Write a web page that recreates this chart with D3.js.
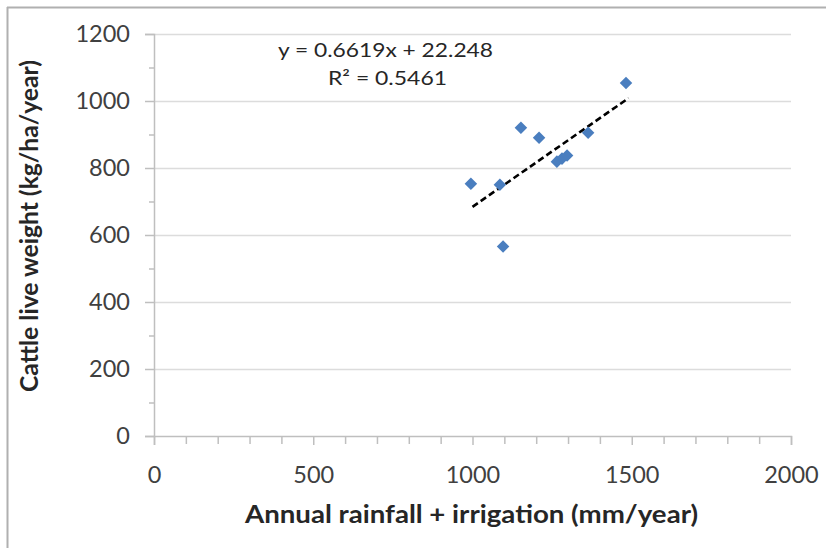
<!DOCTYPE html>
<html><head><meta charset="utf-8">
<script src="https://cdn.jsdelivr.net/npm/d3@7/dist/d3.min.js"></script>
<style>body{margin:0;background:#fff}svg{display:block}</style>
</head><body>
<svg id="c" width="826" height="548"></svg>
<script>
const rainfall = [995, 1086, 1096, 1152, 1209, 1265, 1281, 1297, 1363, 1482];
const liveWeight = [753, 750, 566, 920, 890, 819, 828, 837, 905, 1054];
const xTicks = [0, 500, 1000, 1500, 2000];
const yTicks = [0, 200, 400, 600, 800, 1000, 1200];
const trendSlope = 0.6619, trendIntercept = 22.248;
const trendRange = [1000, 1490];
const equationText = "y = 0.6619x + 22.248";
const r2Text = "R² = 0.5461";
const xTitle = "Annual rainfall + irrigation (mm/year)";
const yTitle = "Cattle live weight (kg/ha/year)";

const svg = d3.select("#c");
const font = "Lato, 'Liberation Sans', sans-serif";
const L = 154, R = 791, T = 34, B = 436;
const x = d3.scaleLinear().domain([0, 2000]).range([L, R]);
const y = d3.scaleLinear().domain([0, 1200]).range([B, T]);

// frame border (top & left)
svg.append("line").attr("x1",7).attr("x2",826).attr("y1",7.5).attr("y2",7.5).attr("stroke","#b0b0b0").attr("stroke-width",2);
svg.append("line").attr("x1",7.5).attr("x2",7.5).attr("y1",7).attr("y2",548).attr("stroke","#b0b0b0").attr("stroke-width",2);

// gridlines
svg.append("g").selectAll("line").data(yTicks.filter(d=>d>0)).join("line")
  .attr("x1",L).attr("x2",R).attr("y1",d=>Math.round(y(d))+0.5).attr("y2",d=>Math.round(y(d))+0.5)
  .attr("stroke","#dcdcdc").attr("stroke-width",1.5);

// y axis
const yAxis = svg.append("g").attr("transform",`translate(${L},0)`)
  .call(d3.axisLeft(y).tickValues(d3.range(0,1201,100)).tickSize(9).tickFormat(d=> yTicks.includes(d)? d : ""));
yAxis.select(".domain").attr("stroke","#bfbfbf").attr("stroke-width",1.5);
yAxis.selectAll(".tick line").attr("stroke","#bfbfbf").attr("stroke-width",1.5)
  .attr("x2", d=> yTicks.includes(d)? -9 : -5);
yAxis.selectAll(".tick text").attr("font-family",font).attr("font-size",23.5).attr("fill","#404040").attr("x",-24);

// x axis
const xAxis = svg.append("g").attr("transform",`translate(0,${B})`)
  .call(d3.axisBottom(x).tickValues(d3.range(0,2001,100)).tickSize(9).tickFormat(d=> xTicks.includes(d)? d : ""));
xAxis.select(".domain").attr("stroke","#bfbfbf").attr("stroke-width",1.5);
xAxis.selectAll(".tick line").attr("stroke","#bfbfbf").attr("stroke-width",1.5)
  .attr("y2", d=> xTicks.includes(d)? 9 : 8);
xAxis.selectAll(".tick text").attr("font-family",font).attr("font-size",23.5).attr("fill","#404040").attr("y",30);

// trendline
svg.append("line")
  .attr("x1",x(trendRange[0])).attr("y1",y(trendSlope*trendRange[0]+trendIntercept))
  .attr("x2",x(trendRange[1])).attr("y2",y(trendSlope*trendRange[1]+trendIntercept))
  .attr("stroke","#000").attr("stroke-width",2.6).attr("stroke-dasharray","6.5,3.5");

// points
const diamond = d3.symbol().type(d3.symbolDiamond2).size(100);
svg.append("g").selectAll("path").data(rainfall.map((r,i)=>[r, liveWeight[i]])).join("path")
  .attr("d", diamond)
  .attr("transform", d=>`translate(${x(d[0])},${y(d[1])})`)
  .attr("fill","#4a7ebf");

// equation
svg.append("text").attr("x",278).attr("y",57)
  .attr("textLength",215).attr("lengthAdjust","spacingAndGlyphs")
  .attr("font-family",font).attr("font-size",19).attr("fill","#262626").text(equationText);
svg.append("text").attr("x",328).attr("y",85)
  .attr("textLength",119).attr("lengthAdjust","spacingAndGlyphs")
  .attr("font-family",font).attr("font-size",19).attr("fill","#262626").text(r2Text);

// titles
svg.append("text").attr("x",245).attr("y",523)
  .attr("textLength",453).attr("lengthAdjust","spacingAndGlyphs")
  .attr("font-family",font).attr("font-size",25).attr("font-weight","bold").attr("fill","#262626").text(xTitle);
svg.append("text").attr("transform","translate(38,392) rotate(-90)")
  .attr("textLength",332).attr("lengthAdjust","spacingAndGlyphs")
  .attr("font-family",font).attr("font-size",25).attr("font-weight","bold").attr("fill","#262626").text(yTitle);
</script>
</body></html>
